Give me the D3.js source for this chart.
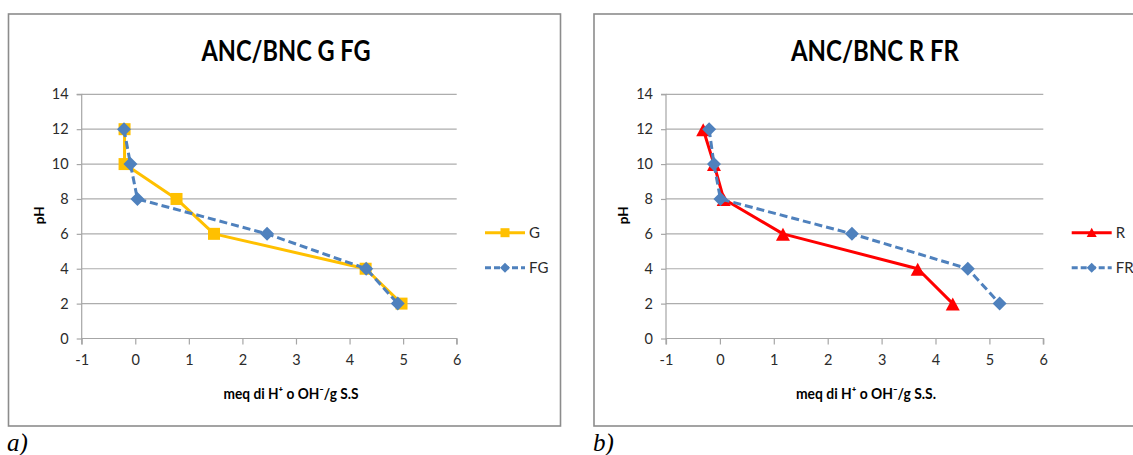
<!DOCTYPE html>
<html><head><meta charset="utf-8">
<script src="https://cdn.jsdelivr.net/npm/d3@7"></script>
<style>
html,body{margin:0;padding:0;background:#fff;}
svg{display:block;font-family:Lato,"Open Sans",sans-serif;}
</style></head>
<body>
<svg id="c" width="1133" height="455"></svg>
<script>
// ---- data ----
const pHLevels = [12, 10, 8, 6, 4, 2];
const xG  = [-0.20, -0.20, 0.77, 1.47, 4.30, 4.97];
const xFG = [-0.21, -0.09, 0.04, 2.46, 4.31, 4.90];
const xR  = [-0.31, -0.11, 0.07, 1.17, 3.67, 4.32];
const xFR = [-0.20, -0.11, 0.01, 2.45, 4.60, 5.19];
const xTicks = [-1, 0, 1, 2, 3, 4, 5, 6];
const yTicks = [0, 2, 4, 6, 8, 10, 12, 14];
const titles = ["ANC/BNC G FG", "ANC/BNC R FR"];
const xTitles = ["meq di H\u207A o OH\u207B/g S.S", "meq di H\u207A o OH\u207B/g S.S."];
const panelLabels = ["a)", "b)"];

const svg = d3.select("#c");

const panels = [
  {ox: 8.5, plotX: [81.7, 456.7], titleX: 286, titleW: 169, xtX: 291, xtW: 135, legX: 485, lblX: 7,
   series: [
     {name: "G", xs: xG, color: "#FFC000", dash: null, marker: "square"},
     {name: "FG", xs: xFG, color: "#4F81BD", dash: "8,4", marker: "diamond"}
   ]},
  {ox: 594, plotX: [666, 1043.3], titleX: 875, titleW: 168, xtX: 866, xtW: 140, legX: 1071.7, lblX: 593,
   series: [
     {name: "R", xs: xR, color: "#FF0000", dash: null, marker: "triangle"},
     {name: "FR", xs: xFR, color: "#4F81BD", dash: "8,4", marker: "diamond"}
   ]}
];

function markerPath(type, s) {
  const h = s / 2;
  if (type === "square") return `M${-h},${-h}H${h}V${h}H${-h}Z`;
  if (type === "diamond") return `M0,${-h}L${h},0L0,${h}L${-h},0Z`;
  if (type === "triangle") return `M0,${-h}L${h},${h*0.85}L${-h},${h*0.85}Z`;
}

const fmt = d => String(d);

panels.forEach((p, pi) => {
  const g = svg.append("g");
  // border
  g.append("rect").attr("x", p.ox).attr("y", 14).attr("width", 552).attr("height", 412)
    .attr("fill", "#fff").attr("stroke", "#8c8c8c").attr("stroke-width", 1.6);

  const x = d3.scaleLinear().domain([-1, 6]).range(p.plotX);
  const y = d3.scaleLinear().domain([0, 14]).range([338.5, 94.3]);

  // gridlines
  g.append("g").selectAll("line").data(yTicks.filter(d => d > 0)).join("line")
    .attr("x1", x(-1)).attr("x2", x(6)).attr("y1", d => y(d)).attr("y2", d => y(d))
    .attr("stroke", "#adadad").attr("stroke-width", 1.2);

  // y axis
  const ya = g.append("g").attr("transform", `translate(${x(-1)},0)`)
    .call(d3.axisLeft(y).tickValues(yTicks).tickSize(5).tickPadding(8).tickFormat(fmt));
  ya.select(".domain").attr("stroke", "#a6a6a6").attr("stroke-width", 1.2).attr("d", `M-5,${y(14)}H0V${y(0)}`);
  ya.selectAll(".tick line").attr("stroke", "#a6a6a6").attr("stroke-width", 1.2);
  ya.selectAll(".tick text").attr("fill", "#2b2b2b").attr("font-size", 14.5).attr("font-family", "Lato");

  // x axis
  const xa = g.append("g").attr("transform", `translate(0,${y(0)})`)
    .call(d3.axisBottom(x).tickValues(xTicks).tickSize(6).tickPadding(10).tickFormat(fmt));
  xa.select(".domain").attr("stroke", "#a6a6a6").attr("stroke-width", 1.2).attr("d", `M${x(-1)},6V0H${x(6)}V6`);
  xa.selectAll(".tick line").attr("stroke", "#a6a6a6").attr("stroke-width", 1.2);
  xa.selectAll(".tick text").attr("fill", "#2b2b2b").attr("font-size", 14.5).attr("font-family", "Lato");

  // title
  g.append("text").attr("x", p.titleX).attr("y", 61).attr("text-anchor", "middle")
    .attr("font-size", 29).attr("font-weight", "bold").attr("fill", "#000")
    .attr("textLength", p.titleW).attr("lengthAdjust", "spacingAndGlyphs").text(titles[pi]);

  // x axis title
  g.append("text").attr("x", p.xtX).attr("y", 399).attr("text-anchor", "middle")
    .attr("font-size", 15.5).attr("font-weight", "bold").attr("fill", "#000")
    .attr("textLength", p.xtW).attr("lengthAdjust", "spacingAndGlyphs").text(xTitles[pi]);

  // y axis title
  g.append("text").attr("transform", `translate(${x(-1) - 38},${y(7) - 1}) rotate(-90)`)
    .attr("text-anchor", "middle").attr("font-size", 13.5).attr("font-weight", "bold").attr("fill", "#000")
    .text("pH");

  // series
  const line = d3.line().x(d => x(d[0])).y(d => y(d[1]));
  p.series.forEach((s, si) => {
    const pts = s.xs.map((v, i) => [v, pHLevels[i]]);
    g.append("path").datum(pts).attr("d", line).attr("fill", "none")
      .attr("stroke", s.color).attr("stroke-width", 3)
      .attr("stroke-dasharray", s.dash).attr("stroke-linejoin", "round");
    const msize = s.marker === "square" ? 12 : 14;
    g.append("g").selectAll("path").data(pts).join("path")
      .attr("transform", d => `translate(${x(d[0])},${y(d[1]) + (s.marker === "triangle" ? 1 : 0)})`)
      .attr("d", markerPath(s.marker, msize)).attr("fill", s.color);

    // legend
    const ly = 232.7 + si * 35;
    g.append("line").attr("x1", p.legX).attr("x2", p.legX + 40).attr("y1", ly).attr("y2", ly)
      .attr("stroke", s.color).attr("stroke-width", 3).attr("stroke-dasharray", s.dash ? "6,3" : null);
    g.append("path").attr("transform", `translate(${p.legX + 20},${ly})`)
      .attr("d", markerPath(s.marker, s.marker === "square" ? 9 : 10)).attr("fill", s.color);
    g.append("text").attr("x", p.legX + 44).attr("y", ly + 5.5).attr("font-size", 15)
      .attr("fill", "#2b2b2b").text(s.name);
  });

  // panel label
  svg.append("text").attr("x", p.lblX).attr("y", 451).attr("font-family", "Liberation Serif")
    .attr("font-style", "italic").attr("font-size", 25).attr("fill", "#000").text(panelLabels[pi]);
});
</script>
</body></html>
